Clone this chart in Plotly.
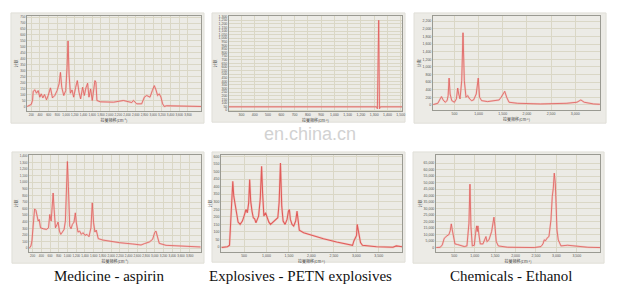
import plotly.graph_objects as go

W, H = 625, 289

# ---------------- data ----------------
p1_x = [108, 200, 230, 246, 284, 322, 360, 398, 429, 467, 505, 551, 589, 642, 688, 741, 794, 840, 871, 901,
        947, 992, 1023, 1046, 1069, 1099, 1137, 1175, 1221, 1259, 1297, 1335, 1381, 1419, 1457, 1495, 1526,
        1564, 1602, 1640, 1663, 1686, 1709, 1785, 2090, 2318, 2509, 2547, 2623, 2737, 2798, 2852, 2928, 2981,
        3027, 3065, 3103, 3141, 3179, 3218, 3256, 3309, 4100]
p1_y = [0, 17, 50, 128, 139, 111, 133, 78, 106, 72, 100, 56, 92, 156, 72, 92, 133, 189, 286, 161,
        92, 133, 328, 550, 272, 111, 139, 78, 161, 217, 120, 64, 161, 92, 156, 195, 78,
        147, 50, 161, 217, 203, 50, 39, 36, 50, 33, 50, 22, 22, 78, 92, 78, 133,
        175, 139, 92, 106, 78, 22, 0, 6, 0]

p2_x = [205, 600, 1000, 1318, 1324, 1327, 1330, 1334, 1337, 1340, 1346, 1510]
p2_y = [46, 46, 46, 46, 20, 600, 1250, 1250, 600, 20, 46, 46]

p3_x = [62, 157, 205, 233, 267, 308, 349, 370, 390, 411, 445, 500, 541, 568, 589, 616, 651, 678, 705, 740,
        774, 815, 856, 897, 952, 993, 1021, 1062, 1185, 1322, 1425, 1466, 1500, 1541, 1582, 1630, 1802,
        2281, 2829, 3035, 3117, 3186, 3377, 3510]
p3_y = [9, 43, 157, 218, 130, 70, 113, 244, 705, 287, 113, 70, 157, 444, 287, 157, 635, 1897, 635, 200,
        244, 157, 113, 130, 287, 705, 200, 113, 87, 113, 130, 200, 270, 357, 200, 70, 43,
        26, 43, 70, 130, 70, 26, 17]

p4_x = [124, 162, 185, 215, 246, 276, 299, 329, 352, 382, 443, 519, 565, 595, 626, 648, 671, 694, 724, 762,
        785, 816, 846, 884, 922, 952, 975, 998, 1021, 1051, 1082, 1112, 1150, 1180, 1203, 1241, 1279,
        1317, 1355, 1401, 1446, 1492, 1538, 1568, 1598, 1629, 1659, 1705, 1811, 1963, 2191, 2495, 2685,
        2761, 2875, 2951, 2997, 3027, 3058, 3103, 3255, 3635, 4050]
p4_y = [0, 35, 110, 386, 597, 577, 512, 412, 437, 311, 296, 286, 311, 512, 412, 612, 838, 587, 311, 361,
        397, 261, 211, 246, 286, 412, 989, 1315, 939, 336, 296, 361, 397, 537, 387, 246, 261,
        211, 236, 196, 211, 176, 311, 688, 387, 246, 276, 146, 125, 105, 85, 65, 50,
        70, 95, 136, 236, 261, 176, 75, 45, 35, 20]

p5_x = [0, 131, 176, 205, 234, 249, 271, 301, 330, 367, 412, 463, 500, 544, 574, 603, 625, 648, 677, 706,
        736, 765, 795, 824, 861, 891, 913, 942, 979, 1016, 1053, 1090, 1134, 1178, 1222, 1252, 1281, 1311,
        1340, 1370, 1414, 1458, 1488, 1510, 1532, 1569, 1606, 1650, 1680, 1702, 1731, 1827, 2048, 2269,
        2564, 2858, 2917, 2947, 2976, 3006, 3021, 3043, 3065, 3094, 3138, 3448, 3817, 3890, 4020]
p5_y = [-4, 2, 11, 183, 304, 436, 337, 282, 209, 165, 150, 172, 205, 249, 227, 293, 447, 304, 238, 194,
        187, 161, 183, 205, 319, 535, 359, 205, 227, 187, 165, 150, 161, 172, 183, 194, 293, 557,
        271, 172, 150, 183, 238, 249, 183, 150, 139, 172, 238, 172, 112, 95, 73, 55,
        33, 11, 11, 40, 55, 77, 150, 106, 68, 29, 11, 2, -2, 7, 2]

p6_x = [60, 157, 206, 255, 320, 369, 402, 427, 451, 484, 516, 582, 663, 745, 810, 859, 884, 908, 941, 990,
        1022, 1047, 1063, 1079, 1104, 1136, 1202, 1251, 1275, 1300, 1349, 1414, 1446, 1471, 1496, 1528,
        1577, 1806, 2458, 2622, 2671, 2703, 2736, 2769, 2818, 2867, 2899, 2924, 2948, 2973, 2997, 3014,
        3046, 3111, 3274, 3438, 3764, 4070]
p6_y = [0, 257, 2056, 7196, 8995, 10023, 13107, 18247, 13621, 8481, 2827, 2313, 1799, 771, 1285, 18761,
        48830, 16191, 1285, 1799, 11051, 16705, 12336, 16705, 9766, 2827, 2827, 5911, 8481, 4626, 5911,
        12336, 18761, 23387, 16191, 4626, 1285, 257, 0, 771, 2827, 5911, 5397, 7196, 8481, 21331, 39321,
        45746, 57311, 49601, 29041, 13621, 5911, 1285, 1799, 1285, 257, 0]

p1_xticks = list(range(200, 4000, 200))
p1_yticks = list(range(0, 800, 50))
p2_xticks = list(range(300, 1600, 100))
p2_yticks = list(range(0, 1350, 50))
p3_xticks = list(range(500, 3500, 500))
p3_yticks = list(range(0, 2400, 200))
p4_xticks = list(range(200, 4000, 200))
p4_yticks = list(range(0, 1500, 100))
p5_xticks = list(range(500, 4000, 500))
p5_yticks = list(range(0, 650, 50))
p6_xticks = list(range(500, 4000, 500))
p6_yticks = list(range(0, 70000, 5000))

captions = ["Medicine - aspirin", "Explosives - PETN explosives", "Chemicals - Ethanol"]
x_title = "拉曼频移(cm<sup>-1</sup>)"
y_title = "计数"
watermark = "en.china.cn"

# ---------------- layout geometry (pixels) ----------------
panels = [
    dict(x=p1_x, y=p1_y, plot=(27, 202, 15, 111), frame=(11, 205, 12, 123), xr=[100, 4100], yr=[-40, 760],
         xt=p1_xticks, yt=p1_yticks, lw=0.8, fs=3),
    dict(x=p2_x, y=p2_y, plot=(230, 404, 15, 111), frame=(213, 407, 12, 122), xr=[205, 1510], yr=[-15, 1310],
         xt=p2_xticks, yt=p2_yticks, lw=0.8, fs=3.5),
    dict(x=p3_x, y=p3_y, plot=(435, 603, 15, 110), frame=(416, 609, 12, 123), xr=[55, 3515], yr=[-140, 2340],
         xt=p3_xticks, yt=p3_yticks, lw=0.8, fs=3.5),
    dict(x=p4_x, y=p4_y, plot=(29, 202, 155, 253), frame=(12, 205, 152, 264), xr=[115, 4060], yr=[-60, 1415],
         xt=p4_xticks, yt=p4_yticks, lw=0.8, fs=3),
    dict(x=p5_x, y=p5_y, plot=(222, 404, 155, 253), frame=(213, 407, 152, 263), xr=[-15, 4020], yr=[-35, 611],
         xt=p5_xticks, yt=p5_yticks, lw=1.1, fs=3.5),
    dict(x=p6_x, y=p6_y, plot=(438, 603, 155, 253), frame=(415, 607, 152, 264), xr=[50, 4070], yr=[-3600, 71350],
         xt=p6_xticks, yt=p6_yticks, lw=0.8, fs=3.5),
]

fig = go.Figure()
shapes = []
annotations = []

for i, p in enumerate(panels):
    n = i + 1
    xa = "x" if n == 1 else f"x{n}"
    ya = "y" if n == 1 else f"y{n}"
    x0, x1, y0, y1 = p["plot"]
    fx0, fx1, fy0, fy1 = p["frame"]
    tick_font = dict(family="Liberation Sans", size=p["fs"], color="#555555")
    shapes.append(dict(type="rect", xref="paper", yref="paper", layer="below",
                       x0=fx0 / W, x1=fx1 / W, y0=1 - fy1 / H, y1=1 - fy0 / H,
                       fillcolor="#ecebe6", line=dict(color="#e0dfd8", width=1)))
    fig.add_trace(go.Scatter(x=p["x"], y=p["y"], mode="lines", xaxis=xa, yaxis=ya,
                             line=dict(color="rgba(244,170,165,0.45)", width=p["lw"] + 1.2),
                             hoverinfo="skip", showlegend=False))
    fig.add_trace(go.Scatter(x=p["x"], y=p["y"], mode="lines", xaxis=xa, yaxis=ya,
                             line=dict(color="#e05c5a", width=p["lw"]),
                             showlegend=False))
    xkey = "xaxis" if n == 1 else f"xaxis{n}"
    ykey = "yaxis" if n == 1 else f"yaxis{n}"
    fig.update_layout(**{
        xkey: dict(domain=[x0 / W, x1 / W], anchor=ya, range=p["xr"], tickvals=p["xt"],
                   tickformat=",d", tickfont=tick_font, ticks="", tickangle=0, showgrid=True,
                   gridcolor="#dad7c6", gridwidth=0.6, zeroline=False, showline=True,
                   linecolor="#9a9a92", linewidth=0.8, mirror=True,
                   title=dict(text=x_title, font=dict(family="Noto Sans CJK SC", size=4, color="#444"),
                              standoff=1)),
        ykey: dict(domain=[1 - y1 / H, 1 - y0 / H], anchor=xa, range=p["yr"], tickvals=p["yt"],
                   tickformat=",d", tickfont=tick_font, ticks="", showgrid=True,
                   gridcolor="#dad7c6", gridwidth=0.6, zeroline=False, showline=True,
                   linecolor="#9a9a92", linewidth=0.8, mirror=True,
                   title=dict(text=y_title, font=dict(family="Noto Sans CJK SC", size=4, color="#444"),
                              standoff=1)),
    })

cap_pos = [(110, 277), (302, 277), (513, 277)]
for txt, (cx, cy) in zip(captions, cap_pos):
    annotations.append(dict(text=txt, x=cx / W, y=1 - cy / H, xref="paper", yref="paper",
                            showarrow=False, xanchor="center", yanchor="middle",
                            font=dict(family="Liberation Serif", size=15, color="#111111")))
annotations.append(dict(text=watermark, x=311 / W, y=1 - 134 / H, xref="paper", yref="paper",
                        showarrow=False, xanchor="center", yanchor="middle",
                        font=dict(family="Liberation Sans", size=18, color="#d2d2d2")))

fig.update_layout(width=W, height=H, margin=dict(l=0, r=0, t=0, b=0),
                  paper_bgcolor="white", plot_bgcolor="#f5f3e7",
                  shapes=shapes, annotations=annotations, showlegend=False)

fig.write_html("out.html")
